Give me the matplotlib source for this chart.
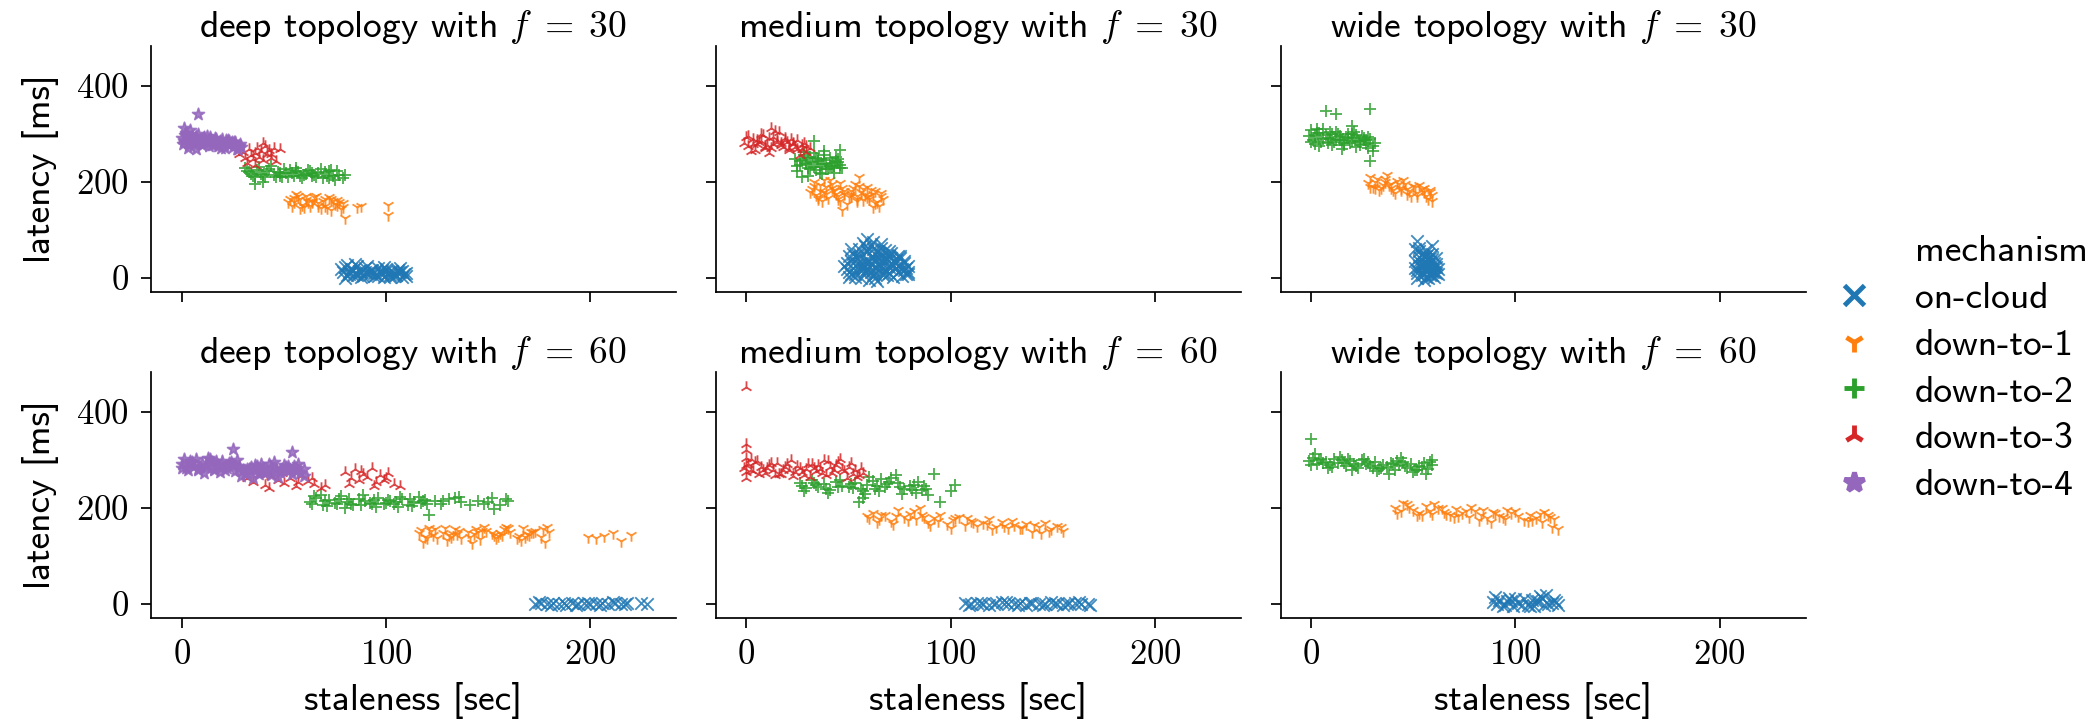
import numpy as np
import matplotlib
matplotlib.use("Agg")
import matplotlib.pyplot as plt
from matplotlib.lines import Line2D
from matplotlib.ticker import FuncFormatter

mechanisms = ["on-cloud", "down-to-1", "down-to-2", "down-to-3", "down-to-4"]
colors = ["#1f77b4", "#ff7f0e", "#2ca02c", "#d62728", "#9467bd"]
markers = ["x", "1", "+", "2", "*"]
topologies = ["deep", "medium", "wide"]
freqs = [30, 60]
x_ticks = [0, 100, 200]
y_ticks = [0, 200, 400]

# ---- deep, f=30 ----
deep30_cloud_x = [79, 81, 83, 85, 87, 89, 91, 93, 95, 97, 99, 101, 103, 105, 107, 109,
                  80, 84, 88, 92, 96, 100, 104, 108, 82, 86, 90, 94, 98, 102, 106, 110, 80, 85,
                  78, 82, 86, 90, 94, 98, 102, 106, 110, 84, 88, 92, 96, 100, 104, 108, 81, 91, 99, 107]
deep30_cloud_y = [12, 5, 18, 8, 14, 3, 10, 16, 6, 12, 2, 9, 14, 5, 11, 7,
                  22, 15, 1, 13, 4, 17, 8, 2, 8, 25, 12, 3, 10, 6, 15, 10, -2, 28,
                  18, 12, 5, 20, 9, 15, 2, 12, 4, 6, 11, 7, 19, 13, 3, 14, 26, 24, 22, 20]
deep30_d1_x = [53, 55, 57, 59, 61, 63, 65, 67, 69, 71, 73, 75, 77, 79, 54, 58, 62, 66, 70, 74, 78,
               56, 60, 64, 68, 72, 76, 88, 86, 101, 101, 80,
               52, 55, 58, 61, 64, 67, 70, 73, 76, 79]
deep30_d1_y = [165, 158, 170, 152, 162, 149, 168, 155, 160, 146, 163, 153, 157, 148, 150, 164, 157, 171, 150, 160, 143,
               175, 148, 160, 145, 168, 151, 150, 147, 151, 131, 125,
               158, 166, 145, 170, 158, 150, 165, 140, 162, 155]
deep30_d2_x = [31, 33, 35, 37, 39, 41, 43, 45, 47, 49, 51, 53, 55, 57, 59, 61, 63, 65, 67, 69, 71, 73, 75, 77, 80,
               34, 38, 42, 46, 50, 54, 58, 62, 66, 70, 74, 36, 40, 48, 56, 64, 72,
               32, 36, 40, 44, 48, 52, 56, 60, 64, 68, 72, 76, 79]
deep30_d2_y = [228, 220, 213, 224, 217, 209, 226, 215, 221, 211, 218, 225, 212, 220, 208, 216, 222, 214, 219, 207, 213, 225, 204, 214, 215,
               216, 231, 222, 210, 227, 218, 213, 224, 209, 220, 212, 196, 200, 212, 229, 219, 223,
               222, 210, 215, 232, 218, 210, 222, 214, 212, 226, 208, 222, 208]
deep30_d3_x = [28, 30, 31, 33, 34, 35, 36, 37, 38, 39, 40, 41, 42, 43, 44, 45, 46, 48, 32, 36, 40, 44]
deep30_d3_y = [258, 262, 250, 268, 255, 247, 260, 271, 252, 264, 245, 275, 258, 266, 249, 270, 243, 268, 240, 235, 281, 257]
deep30_d4_x = [0, 1, 2, 3, 4, 5, 6, 7, 8, 9, 10, 11, 12, 13, 14, 15, 16, 17, 18, 19, 20, 21, 22, 23, 24, 25, 26, 27, 28, 29,
               2, 5, 8, 11, 14, 17, 20, 23, 26, 1, 4, 8, 3, 7,
               0.5, 2.5, 4.5, 6.5, 9.5, 12.5, 15.5, 18.5, 21.5, 24.5, 27.5, 1.5, 3.5, 10.5, 13.5, 16.5, 19.5, 22.5, 25.5, 28.5]
deep30_d4_y = [292, 285, 298, 281, 290, 287, 279, 295, 283, 288, 276, 291, 284, 280, 289, 277, 286, 282, 274, 285, 279, 271, 283, 276, 280, 272, 278, 269, 275, 272,
               301, 296, 299, 293, 294, 289, 290, 286, 284, 312, 308, 342, 270, 268,
               279, 293, 286, 291, 280, 296, 283, 277, 287, 283, 268, 297, 276, 289, 275, 292, 271, 288, 284, 279]

# ---- deep, f=60 ----
deep60_cloud_x = [173, 176, 179, 182, 185, 188, 191, 194, 197, 200, 203, 206, 209, 212, 215, 218,
                  175, 181, 187, 193, 199, 205, 211, 217, 225, 228]
deep60_cloud_y = [0, 2, -1, 1, 0, -2, 1, 0, 2, -1, 0, 1, -1, 2, 0, 1, 3, -2, 2, -3, 1, -2, 3, -1, 1, -1]
deep60_d1_x = [116, 119, 122, 125, 128, 131, 134, 137, 140, 143, 146, 149, 152, 155, 158, 161, 164, 167, 170, 173, 176, 179,
               118, 124, 130, 136, 142, 148, 154, 160, 166, 172, 178, 121, 133, 145, 157, 169,
               199, 203, 207, 211, 215, 220,
               117, 123, 129, 135, 141, 147, 153, 159, 165, 171, 177, 120, 132, 144, 156, 168, 180]
deep60_d1_y = [147, 140, 152, 136, 148, 143, 156, 138, 150, 145, 134, 152, 147, 141, 155, 149, 137, 157, 144, 152, 139, 160,
               128, 155, 132, 151, 126, 160, 136, 158, 132, 149, 128, 158, 146, 150, 143, 146,
               140, 136, 142, 148, 131, 143,
               153, 143, 158, 146, 139, 151, 144, 160, 141, 149, 155, 136, 140, 155, 148, 140, 150]
deep60_d2_x = [63, 66, 69, 72, 75, 78, 81, 84, 87, 90, 93, 96, 99, 102, 105, 108, 111, 114, 117, 120,
               65, 71, 77, 83, 89, 95, 101, 107, 113, 119, 124, 127, 131, 134, 137, 141,
               145, 148, 152, 156, 160, 121, 153, 159,
               64, 70, 76, 82, 88, 94, 100, 106, 112, 118, 68, 80, 92, 104, 116, 128, 136, 150]
deep60_d2_y = [213, 220, 206, 216, 210, 224, 212, 205, 218, 214, 209, 221, 207, 215, 212, 219, 206, 213, 210, 208,
               225, 203, 219, 209, 226, 202, 217, 223, 204, 216, 214, 208, 218, 221, 212, 205,
               214, 208, 220, 206, 215, 184, 197, 219,
               207, 214, 209, 219, 205, 216, 211, 202, 218, 214, 226, 200, 210, 207, 222, 215, 223, 212]
deep60_d3_x = [32, 35, 38, 41, 44, 47, 50, 53, 56, 59, 62, 65, 68, 70, 36, 43, 49, 57, 64,
               80, 83, 85, 87, 89, 91, 93, 95, 97, 99, 101, 104, 107, 82, 88, 94, 100]
deep60_d3_y = [262, 255, 270, 248, 266, 258, 251, 263, 245, 268, 257, 250, 242, 248, 276, 241, 272, 255, 262,
               275, 262, 281, 258, 271, 264, 284, 254, 269, 259, 273, 250, 246, 250, 276, 245, 262]
deep60_d4_x = [0, 2, 4, 6, 8, 10, 12, 14, 16, 18, 20, 22, 24, 26, 28, 30, 32, 34, 36, 38, 40, 42, 44, 46, 48, 50, 52, 54, 56, 58, 60,
               1, 5, 9, 13, 17, 21, 25, 29, 33, 37, 41, 45, 49, 53, 57, 3, 11, 19, 27, 35, 43, 51, 25, 54,
               0, 4, 8, 12, 16, 20, 24, 28, 32, 36, 40, 44, 48, 52, 56, 60, 7, 15, 23, 31, 39, 47, 55]
deep60_d4_y = [291, 283, 298, 287, 279, 294, 286, 301, 281, 290, 297, 284, 292, 276, 288, 280, 273, 286, 278, 270, 283, 276, 268, 281, 274, 289, 279, 271, 284, 273, 266,
               301, 295, 286, 305, 298, 279, 289, 266, 281, 287, 273, 295, 282, 278, 291, 278, 272, 275, 300, 262, 292, 285, 322, 316,
               283, 292, 282, 290, 278, 286, 295, 284, 281, 289, 274, 286, 279, 288, 276, 282, 302, 296, 293, 270, 292, 265, 288]

# ---- medium, f=30 ----
medium30_cloud_x = [49, 51, 53, 55, 57, 59, 61, 63, 65, 67, 69, 71, 73, 75, 77, 79,
                    50, 54, 58, 62, 66, 70, 74, 78, 52, 56, 60, 64, 68, 72, 76, 58, 62, 66, 70, 60, 64,
                    50, 53, 56, 59, 62, 65, 68, 71, 74, 77, 51, 55, 61, 67, 73, 79, 57, 63, 69, 48,
                    49, 52, 55, 58, 61, 64, 67, 70, 73, 76, 79, 50, 53, 56, 59, 62, 65, 68, 71, 74, 77,
                    51, 54, 57, 60, 63, 66, 69, 72, 75, 78, 55, 58, 61, 64, 67, 70, 59, 63, 66]
medium30_cloud_y = [18, 35, 8, 42, 22, 55, 12, 38, 28, 48, 5, 31, 20, 40, 15, 25,
                    2, 28, 14, 60, 33, 10, 45, 8, 50, 0, 35, 20, 58, 26, 3, 65, 74, 62, 45, -5, -7,
                    12, 44, 30, 18, 6, 40, 15, 52, 25, 35, 60, 18, 28, 10, 30, 12, 72, 50, 38, 25,
                    30, 20, 50, 10, 42, 28, 5, 22, 36, 18, 8, 45, 2, 25, 55, 15, 52, 35, 40, 12, 30,
                    8, 40, 18, 32, 0, 22, 48, 2, 45, 20, 60, 35, 68, 55, 20, 55, 80, 8, 70]
medium30_d1_x = [32, 34, 36, 38, 40, 42, 44, 46, 48, 50, 52, 54, 56, 58, 60, 62, 64, 66,
                 33, 37, 41, 45, 49, 53, 57, 61, 65, 35, 43, 51, 59, 47, 55,
                 31, 35, 39, 43, 47, 51, 55, 59, 63, 67, 38, 46, 54, 62,
                 33, 36, 39, 42, 45, 48, 51, 54, 57, 60, 63, 66]
medium30_d1_y = [185, 172, 193, 178, 166, 188, 175, 197, 181, 168, 186, 160, 179, 172, 164, 175, 158, 170,
                 200, 160, 203, 170, 154, 195, 162, 183, 150, 164, 182, 171, 190, 142, 210,
                 178, 168, 190, 180, 187, 174, 192, 168, 180, 163, 203, 160, 170, 148,
                 192, 181, 174, 196, 163, 175, 180, 164, 185, 171, 156, 176]
medium30_d2_x = [24, 26, 28, 30, 32, 34, 36, 38, 40, 42, 44, 46, 25, 29, 33, 37, 41, 45, 27, 31, 35, 39, 43, 33, 38, 46, 30,
                 26, 30, 34, 38, 42, 46, 28, 36, 44,
                 25, 27, 29, 31, 33, 35, 37, 39, 41, 43, 45, 47]
medium30_d2_y = [248, 235, 256, 228, 242, 250, 231, 245, 226, 240, 252, 236, 222, 238, 261, 216, 233, 247, 209, 227, 244, 238, 219, 285, 265, 266, 212,
                 243, 250, 225, 255, 230, 228, 262, 219, 244,
                 232, 246, 240, 252, 230, 248, 238, 226, 250, 233, 241, 229]
medium30_d3_x = [-1, 1, 3, 5, 7, 9, 11, 13, 15, 17, 19, 21, 23, 25, 27, 29, 0, 4, 8, 12, 16, 20, 24, 28, 2, 6, 10, 14, 18, 22, 26, 12,
                 1, 5, 9, 13, 17, 21, 25, 29, 3, 7, 11, 15, 19, 23, 27, 31]
medium30_d3_y = [281, 274, 289, 278, 285, 272, 291, 279, 283, 276, 287, 271, 282, 268, 277, 262, 293, 266, 298, 270, 304, 284, 273, 281,
                 265, 283, 276, 306, 273, 290, 256, 312,
                 296, 287, 270, 294, 281, 266, 288, 275, 278, 300, 261, 288, 292, 279, 269, 270]

# ---- medium, f=60 ----
medium60_cloud_x = [107, 110, 113, 116, 119, 122, 125, 128, 131, 134, 137, 140, 143, 146, 149, 152, 155, 158, 161, 164, 167,
                    109, 115, 121, 127, 133, 139, 145, 151, 157, 163, 168]
medium60_cloud_y = [1, -1, 2, 0, -2, 1, 3, -1, 0, 2, -2, 1, 0, -1, 3, 0, -2, 2, 1, -1, 0, -3, 2, -1, 3, -2, 1, -3, 2, -1, 3, -2]
medium60_d1_x = [59, 62, 65, 68, 71, 74, 77, 80, 83, 86, 89, 92, 95, 98, 101, 104, 107, 110, 113, 116, 119, 122, 125, 128, 131, 134, 137, 140, 143, 146, 149, 152, 155,
                 64, 72, 82, 90, 100, 108, 120, 130, 144, 85,
                 60, 66, 73, 79, 87, 94, 102, 111, 118, 126, 135, 141, 148, 154]
medium60_d1_y = [182, 190, 177, 186, 173, 195, 181, 188, 176, 184, 170, 179, 186, 167, 174, 180, 165, 172, 162, 169, 176, 160, 171, 158, 164, 157, 166, 150, 160, 168, 155, 163, 151,
                 170, 167, 193, 165, 158, 178, 156, 173, 148, 200,
                 178, 185, 182, 175, 180, 172, 178, 170, 166, 162, 158, 165, 152, 160]
medium60_d2_x = [26, 29, 32, 35, 38, 41, 44, 47, 50, 53, 56, 59, 62, 65, 68, 71, 74, 77, 80, 83, 86, 89,
                 28, 34, 40, 46, 52, 58, 64, 70, 76, 82, 88, 55, 57, 95, 102, 100, 92, 73,
                 27, 33, 39, 45, 51, 57, 63, 69, 75, 81, 87, 60, 66, 84]
medium60_d2_y = [252, 241, 258, 244, 250, 237, 255, 246, 243, 252, 239, 248, 257, 236, 244, 262, 251, 240, 246, 232, 238, 226,
                 235, 247, 232, 258, 241, 229, 245, 254, 228, 248, 240, 212, 220, 212, 247, 235, 270, 268,
                 245, 252, 240, 244, 249, 236, 240, 250, 244, 238, 245, 265, 260, 255]
medium60_d3_x = [-1, 1, 3, 5, 7, 9, 11, 13, 15, 17, 19, 21, 23, 25, 27, 29, 31, 33, 35, 37, 39, 41, 43, 45, 47, 49, 51, 53, 55, 57,
                 0, 0, 0, 2, 6, 14, 22, 30, 38, 46, 54, 0, 0, 0,
                 0, 2, 4, 8, 10, 12, 16, 18, 20, 24, 26, 28, 32, 34, 36, 40, 42, 44, 48, 50, 52, 56]
medium60_d3_y = [283, 291, 276, 297, 285, 272, 289, 280, 294, 271, 286, 279, 266, 288, 275, 282, 264, 283, 290, 273, 269, 286, 278, 296, 281, 263, 293, 279, 268, 272,
                 275, 290, 305, 301, 270, 268, 299, 292, 300, 303, 265, 452, 334, 320,
                 262, 280, 296, 278, 284, 293, 270, 278, 292, 275, 284, 268, 292, 277, 281, 297, 272, 290, 277, 285, 270, 284]

# ---- wide, f=30 ----
wide30_cloud_x = [51, 53, 55, 57, 59, 61, 52, 54, 56, 58, 60, 62, 53, 55, 57, 59, 51, 61, 52, 59, 56, 54,
                  52, 54, 56, 58, 60, 55, 57, 53, 59, 61,
                  51, 52, 53, 54, 55, 56, 57, 58, 59, 60, 61, 62, 53, 55, 57, 59, 54, 56, 58, 60]
wide30_cloud_y = [20, 35, 8, 28, 12, 40, 0, 22, 45, 5, 30, 18, 55, -5, 38, 15, 60, 10, 76, 65, 2, 48,
                  10, 28, 15, 40, 22, 32, 50, 62, 5, 28,
                  35, 15, 25, 5, 45, 20, 0, 18, 38, 12, 22, 8, 42, 30, 25, 50, 12, 58, 32, 2]
wide30_d1_x = [28, 30, 32, 34, 36, 38, 40, 42, 44, 46, 48, 50, 52, 54, 56, 58, 29, 33, 37, 41, 45, 49, 53, 57, 31, 39, 47, 55, 59,
               29, 31, 35, 39, 43, 47, 51, 55, 59, 36, 44, 52, 58]
wide30_d1_y = [198, 190, 205, 186, 199, 193, 182, 201, 188, 195, 180, 192, 176, 185, 171, 178, 210, 182, 214, 176, 203, 170, 194, 165, 186, 196, 175, 188, 160,
               190, 200, 194, 187, 196, 184, 189, 179, 172, 206, 183, 170, 182]
wide30_d2_x = [-1, 1, 3, 5, 7, 9, 11, 13, 15, 17, 19, 21, 23, 25, 27, 29, 31, 0, 4, 8, 12, 16, 20, 24, 28,
               2, 6, 10, 14, 18, 22, 26, 30, 7, 12, 29, 29, 20,
               0, 2, 4, 6, 8, 10, 12, 14, 16, 18, 20, 22, 24, 26, 28, 30, 3, 9, 15, 21, 27]
wide30_d2_y = [295, 288, 301, 284, 297, 290, 283, 299, 287, 293, 280, 291, 285, 296, 278, 289, 282, 308, 275, 291, 305, 277, 299, 283, 270,
               279, 311, 276, 288, 300, 272, 292, 265, 348, 341, 352, 244, 316,
               283, 297, 302, 290, 282, 299, 287, 295, 280, 292, 286, 297, 276, 288, 293, 274, 311, 304, 268, 303, 287]

# ---- wide, f=60 ----
wide60_cloud_x = [89, 92, 95, 98, 101, 104, 107, 110, 113, 116, 119, 121, 90, 94, 100, 106, 112, 118, 97, 109, 115,
                  91, 96, 103, 108, 114, 120, 99, 111]
wide60_cloud_y = [3, 8, -2, 6, 1, 10, -4, 5, 12, 0, 7, -3, 13, -6, 9, -3, 15, 2, 11, -5, 18,
                  0, 5, -3, 8, -2, 4, -5, 6]
wide60_d1_x = [41, 44, 47, 50, 53, 56, 59, 62, 65, 68, 71, 74, 77, 80, 83, 86, 89, 92, 95, 98, 101, 104, 107, 110, 113, 116, 119,
               45, 52, 60, 70, 78, 88, 96, 106, 114, 118, 121,
               42, 48, 54, 58, 64, 72, 76, 82, 90, 94, 100, 108, 112, 117, 66, 84]
wide60_d1_y = [200, 193, 207, 196, 190, 203, 188, 199, 192, 185, 197, 189, 181, 194, 186, 178, 191, 183, 176, 189, 182, 174, 185, 179, 171, 184, 176,
               211, 184, 208, 180, 202, 170, 196, 172, 192, 160, 155,
               190, 201, 186, 194, 200, 183, 193, 175, 189, 181, 193, 175, 187, 181, 188, 196]
wide60_d2_x = [-1, 1, 3, 5, 7, 9, 11, 13, 15, 17, 19, 21, 23, 25, 27, 29, 31, 33, 35, 37, 39, 41, 43, 45, 47, 49, 51, 53, 55, 57, 59,
               2, 8, 14, 20, 26, 32, 38, 44, 50, 56, 59, 0,
               0, 4, 10, 16, 22, 28, 34, 40, 46, 52, 58, 6, 18, 30, 42, 54]
wide60_d2_y = [298, 305, 292, 301, 296, 289, 303, 294, 299, 287, 297, 292, 284, 300, 291, 288, 295, 282, 290, 286, 294, 280, 289, 296, 283, 291, 278, 287, 293, 281, 289,
               312, 283, 307, 279, 302, 276, 271, 304, 275, 270, 299, 344,
               290, 299, 286, 293, 288, 296, 284, 291, 288, 280, 295, 294, 302, 283, 298, 285]

# series per panel, in the order of `mechanisms` (None = not present)
panels = {
    ("deep", 30): [(deep30_cloud_x, deep30_cloud_y), (deep30_d1_x, deep30_d1_y), (deep30_d2_x, deep30_d2_y),
                   (deep30_d3_x, deep30_d3_y), (deep30_d4_x, deep30_d4_y)],
    ("deep", 60): [(deep60_cloud_x, deep60_cloud_y), (deep60_d1_x, deep60_d1_y), (deep60_d2_x, deep60_d2_y),
                   (deep60_d3_x, deep60_d3_y), (deep60_d4_x, deep60_d4_y)],
    ("medium", 30): [(medium30_cloud_x, medium30_cloud_y), (medium30_d1_x, medium30_d1_y),
                     (medium30_d2_x, medium30_d2_y), (medium30_d3_x, medium30_d3_y), None],
    ("medium", 60): [(medium60_cloud_x, medium60_cloud_y), (medium60_d1_x, medium60_d1_y),
                     (medium60_d2_x, medium60_d2_y), (medium60_d3_x, medium60_d3_y), None],
    ("wide", 30): [(wide30_cloud_x, wide30_cloud_y), (wide30_d1_x, wide30_d1_y), (wide30_d2_x, wide30_d2_y), None, None],
    ("wide", 60): [(wide60_cloud_x, wide60_cloud_y), (wide60_d1_x, wide60_d1_y), (wide60_d2_x, wide60_d2_y), None, None],
}

plt.rcParams["font.family"] = "cmss10"
plt.rcParams["mathtext.fontset"] = "cm"
plt.rcParams["axes.linewidth"] = 1.25
fs = 27
tfs = 25

fig = plt.figure(figsize=(20.97, 7.27), dpi=100)
gs = fig.add_gridspec(2, 3, left=0.072, right=0.861, bottom=0.150, top=0.937,
                      wspace=0.076, hspace=0.325)
tick_fmt = FuncFormatter(lambda v, p: "$%d$" % v)

for r, f in enumerate(freqs):
    for c, topo in enumerate(topologies):
        ax = fig.add_subplot(gs[r, c])
        for i, series in enumerate(panels[(topo, f)]):
            if series is None:
                continue
            xs, ys = series
            ax.scatter(xs, ys, s=80, marker=markers[i], color=colors[i],
                       linewidths=1.3, alpha=0.85)
        ax.set_xlim(-15, 242)
        ax.set_ylim(-30, 484)
        ax.set_xticks(x_ticks)
        ax.set_yticks(y_ticks)
        ax.xaxis.set_major_formatter(tick_fmt)
        ax.yaxis.set_major_formatter(tick_fmt)
        ax.tick_params(length=7, width=1.25, labelsize=tfs, pad=9)
        ax.spines["top"].set_visible(False)
        ax.spines["right"].set_visible(False)
        ax.set_title(r"%s topology with $f\;=\;%d$" % (topo, f), fontsize=fs, pad=6.5)
        if c == 0:
            ax.set_ylabel("latency [ms]", fontsize=fs, labelpad=12)
        else:
            ax.tick_params(labelleft=False)
        if r == 1:
            ax.set_xlabel("staleness [sec]", fontsize=fs, labelpad=8)
        else:
            ax.tick_params(labelbottom=False)

handles = [Line2D([], [], linestyle="none", marker=None)]
labels = ["mechanism"]
for i, m in enumerate(mechanisms):
    handles.append(Line2D([], [], linestyle="none", marker=markers[i], color=colors[i],
                          markersize=15, markeredgewidth=3.5))
    labels.append(m)
fig.legend(handles, labels, loc="center left", bbox_to_anchor=(0.859, 0.493),
           frameon=False, fontsize=fs, handlelength=1.0, handletextpad=1.13,
           labelspacing=0.36)

fig.savefig("out.png", dpi=100)
